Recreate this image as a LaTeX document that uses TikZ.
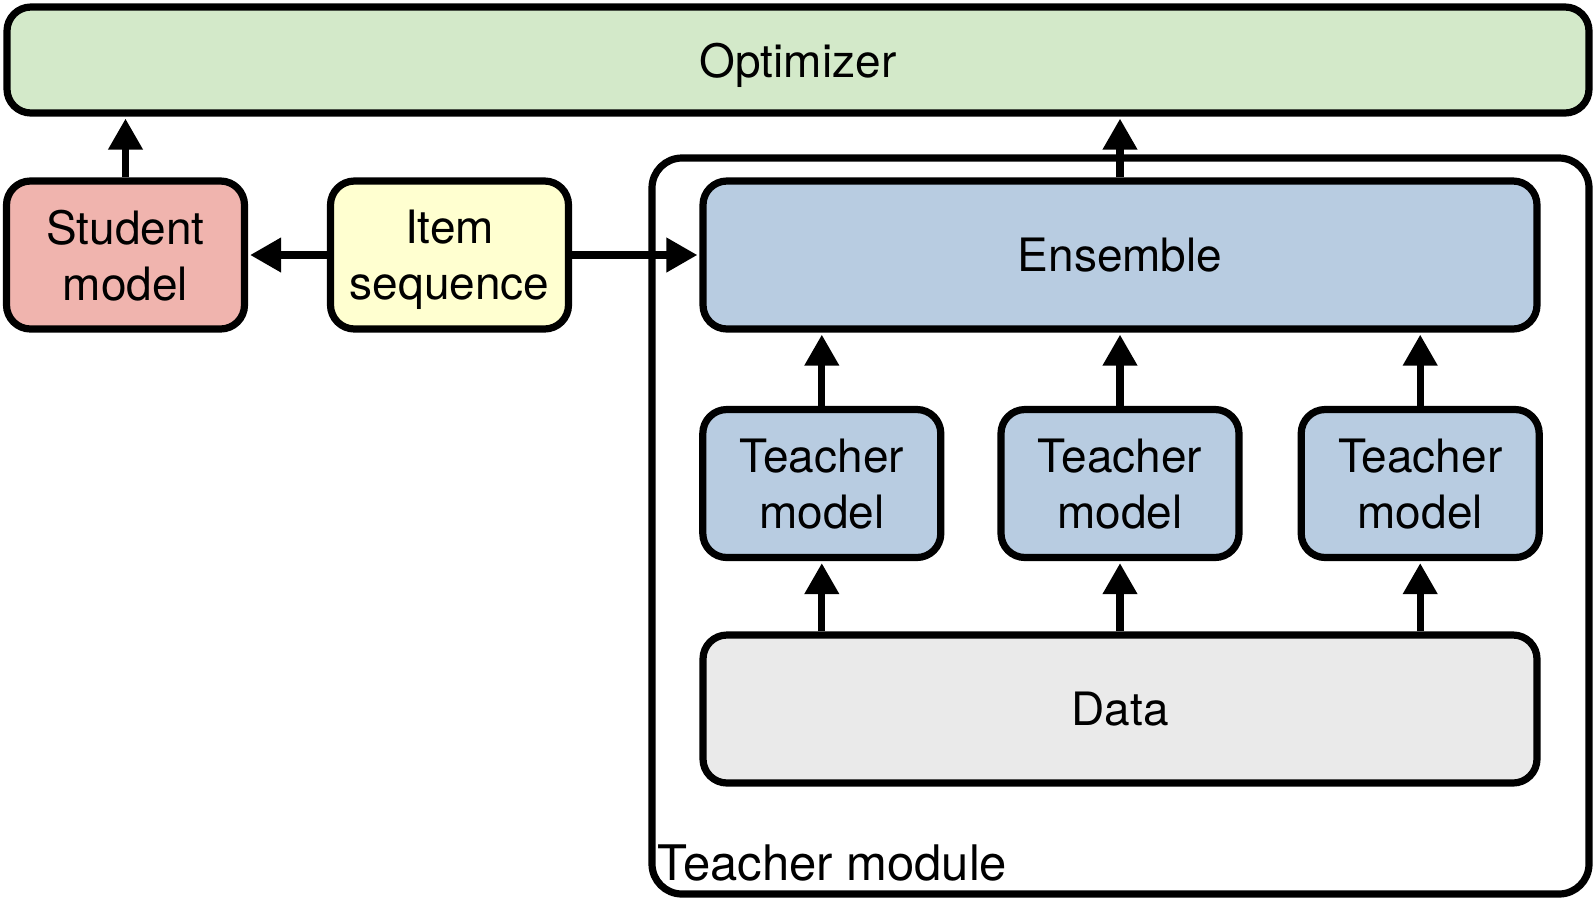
\documentclass[tikz,border=0pt]{standalone}
\usepackage{fontspec}
\setmainfont{TeX Gyre Heros}
\usepackage{tikz}
\usetikzlibrary{arrows.meta,positioning}
\definecolor{optGreen}{HTML}{D3E9C9}
\definecolor{studentRed}{HTML}{F0B4AE}
\definecolor{itemYellow}{HTML}{FFFFD0}
\definecolor{teacherBlue}{HTML}{B8CCE1}
\definecolor{dataGray}{HTML}{EAEAEA}

\begin{document}
\begin{tikzpicture}[
  x=0.5pt,y=-0.5pt,
  font=\fontsize{23}{28}\selectfont,
  block/.style={draw=black,fill=#1,rounded corners=12pt,line width=3.6pt,align=center,inner sep=0pt,text depth=-2pt},
  small/.style={minimum width=119pt,minimum height=74pt},
  wide/.style={minimum width=417pt,minimum height=74pt},
  arr/.style={-{Triangle[length=15.5pt,width=16.5pt]},line width=3.6pt,shorten >=1pt}
]
  \useasboundingbox (0,0) rectangle (1596,902);
  % teacher module frame
  \node[block=white,rounded corners=15pt,minimum width=468.5pt,minimum height=368pt] (module) at (1120.5,526) {};
  \node[anchor=base west,inner sep=0pt,font=\fontsize{24.5}{28}\selectfont] (modlabel) at ([xshift=4.5pt,yshift=8.8pt]module.south west) {Teacher module};

  \node[block=optGreen,minimum width=791pt,minimum height=53pt] (opt) at (798,60) {Optimizer};
  \node[block=studentRed,small] (student) at (125.5,255) {Student\\model};
  \node[block=itemYellow,small] (item) at (449.5,255) {Item\\sequence};
  \node[block=teacherBlue,wide] (ens) at (1120,255) {Ensemble};
  \node[block=teacherBlue,small] (t2) at (1120,483.5) {Teacher\\model};
  \node[block=teacherBlue,small,left=26.5pt of t2] (t1) {Teacher\\model};
  \node[block=teacherBlue,small,right=27.5pt of t2] (t3) {Teacher\\model};
  \node[block=dataGray,wide] (data) at (1120,709) {Data};

  \draw[arr] (student.north) -- (student.north |- opt.south);
  \draw[arr] (item) -- (student);
  \draw[arr] (item) -- (ens);
  \draw[arr] (ens.north) -- (opt.south -| ens.north);
  \foreach \t in {t1,t2,t3} {
    \draw[arr] (\t.north) -- (ens.south -| \t.north);
    \draw[arr] (data.north -| \t.south) -- (\t.south);
  }
\end{tikzpicture}
\end{document}
